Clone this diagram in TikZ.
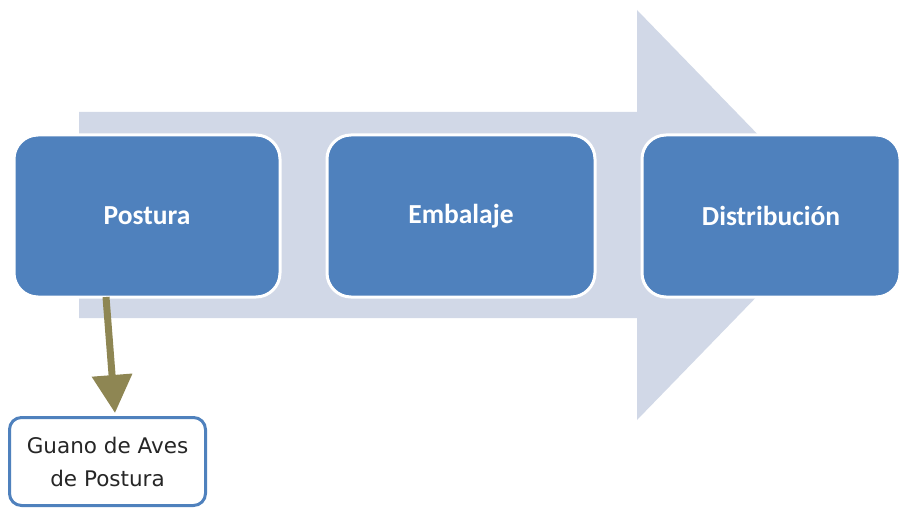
\documentclass[tikz,border=0pt]{standalone}
\usepackage{fontspec}
\setmainfont{Carlito}[BoldFont={Carlito Bold}]
\newfontfamily\smallfont{DejaVu Sans}
\usetikzlibrary{arrows.meta}
\definecolor{boxblue}{HTML}{4F81BD}
\definecolor{bgarrow}{HTML}{D1D8E7}
\definecolor{olivearrow}{HTML}{8E8653}
\tikzset{
  stepbox/.style={rectangle, rounded corners=24pt, fill=boxblue, draw=white, line width=3pt,
    text=white, font=\bfseries\fontsize{27.5}{30}\selectfont, inner sep=0pt},
  notebox/.style={rectangle, rounded corners=12pt, fill=white, draw=boxblue, line width=3pt,
    text=black!85, font=\smallfont\fontsize{21.5}{33}\selectfont, align=center, inner sep=0pt},
  linkarrow/.style={draw=olivearrow, line width=7pt, -{Triangle[width=39pt,length=38pt]}, fill=olivearrow}
}
\begin{document}
\begin{tikzpicture}[x=1pt,y=-1pt]
\useasboundingbox (0,0) rectangle (900,508);
% big background arrow
\fill[bgarrow] (79,112) -- (637,112) -- (637,10) -- (836,215) -- (637,420) -- (637,318) -- (79,318) -- cycle;
% step boxes
\node[stepbox, minimum width=266pt, minimum height=162pt] (postura) at (147,216) {Postura};
\node[stepbox, minimum width=268pt, minimum height=162pt] (embalaje) at (461,216) {Embalaje};
\node[stepbox, minimum width=258pt, minimum height=162pt] (distribucion) at (771,216) {Distribución};
% note box
\node[notebox, minimum width=196pt, minimum height=88pt] (guano) at (107.5,461.5) {Guano de Aves\\de Postura};
% connector
\coordinate (a1) at (106,297);
\coordinate (a2) at (115,413);
\draw[linkarrow] (a1) -- (a2);
\end{tikzpicture}
\end{document}
